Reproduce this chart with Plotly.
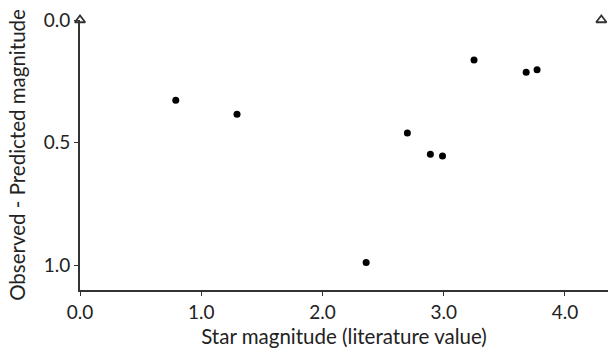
import plotly.graph_objects as go

star_mag = [0.79, 1.295, 2.36, 2.70, 2.89, 2.99, 3.25, 3.68, 3.77]
obs_minus_pred = [0.327, 0.384, 0.988, 0.46, 0.547, 0.554, 0.163, 0.213, 0.203]
ref_x = [0.0, 4.30]
ref_y = [0.0, 0.0]

fig = go.Figure()
fig.add_trace(go.Scatter(x=star_mag, y=obs_minus_pred, mode="markers",
                         marker=dict(color="black", size=7), cliponaxis=False))
fig.add_trace(go.Scatter(x=ref_x, y=ref_y, mode="markers",
                         marker=dict(symbol="triangle-up-open", color="#333", size=9,
                                     line=dict(width=1.8)), cliponaxis=False))
font = "Lato, DejaVu Sans, sans-serif"
fig.update_layout(
    width=608, height=355, showlegend=False,
    plot_bgcolor="white", paper_bgcolor="white",
    margin=dict(l=80, r=0, t=20, b=65),
    font=dict(family=font, color="#222"),
)
fig.update_xaxes(range=[0, 4.355], tickvals=[0, 1, 2, 3, 4],
                 ticktext=["0.0", "1.0", "2.0", "3.0", "4.0"], automargin=False,
                 showline=True, linecolor="#333", linewidth=2, showgrid=False, zeroline=False,
                 ticks="outside", ticklen=4, tickcolor="#333",
                 tickfont=dict(size=19),
                 title=dict(text="Star magnitude (literature value)", font=dict(size=20.5), standoff=8))
fig.update_yaxes(range=[1.1, 0], tickvals=[0, 0.5, 1.0],
                 ticktext=["0.0", "0.5", "1.0"], automargin=False,
                 showline=True, linecolor="#333", linewidth=2, showgrid=False, zeroline=False,
                 ticks="outside", ticklen=4, tickcolor="#333",
                 tickfont=dict(size=19),
                 title=dict(text="Observed - Predicted magnitude", font=dict(size=20.5), standoff=12))
fig.write_html("out.html", config={"displayModeBar": False},
               post_script="document.body.style.margin='0';document.body.style.overflow='hidden';")
